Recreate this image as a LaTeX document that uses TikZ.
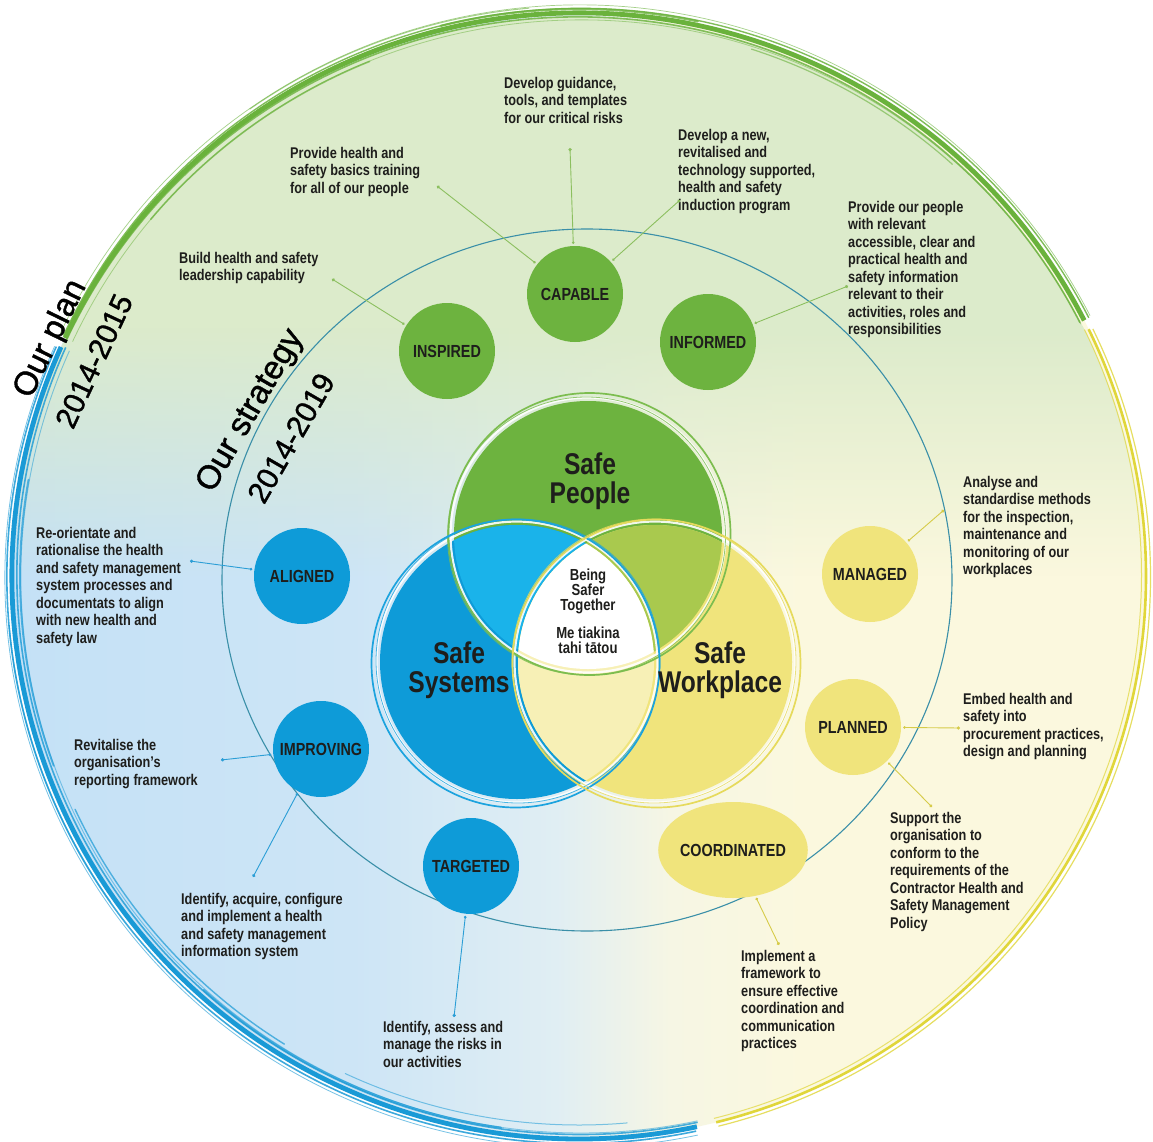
\documentclass[tikz,border=0pt]{standalone}
\usepackage{fontspec}
\setmainfont{Liberation Sans}
\newfontfamily\narrowfont{Liberation Sans}[FakeStretch=0.82]
\newfontfamily\headfont{Liberation Sans}[FakeBold=1.2]
\usetikzlibrary{arrows.meta,fadings,shapes.geometric}

% palette
\definecolor{gfill}{HTML}{6DB33F}
\definecolor{bfill}{HTML}{0E9BD8}
\definecolor{yfill}{HTML}{F0E47C}
\definecolor{gbmix}{HTML}{1AB3EA}
\definecolor{gymix}{HTML}{A9C94E}
\definecolor{bymix}{HTML}{F7F0B6}
\definecolor{gpale}{HTML}{DCEBCB}
\definecolor{bpale}{HTML}{C4E1F6}
\definecolor{bpaleb}{HTML}{CDE5F6}
\definecolor{bpalec}{HTML}{E0EEF3}
\definecolor{ypalea}{HTML}{F6F6E4}
\definecolor{ypale}{HTML}{FBF8DE}
\definecolor{gbrush}{HTML}{6AB23C}
\definecolor{bbrush}{HTML}{1A9AD6}
\definecolor{ybrush}{HTML}{E0D63A}
\definecolor{gring}{HTML}{7CBD4F}
\definecolor{bring}{HTML}{1CA3DE}
\definecolor{yring}{HTML}{E6DA5C}
\definecolor{ring}{HTML}{3A8FA8}
\definecolor{txt}{HTML}{1E1E1C}
\definecolor{gline}{HTML}{8CBF5F}
\definecolor{bline}{HTML}{2B9ED6}
\definecolor{yline}{HTML}{D6CB48}

% background washes of the outer disk
\pgfdeclarehorizontalshading{bgshade}{100bp}{color(0bp)=(bpale); color(25bp)=(bpale); color(40bp)=(bpaleb); color(49bp)=(bpalec); color(54bp)=(ypalea); color(60bp)=(ypale); color(100bp)=(ypale)}
\pgfdeclareverticalshading{greenfadeshade}{100bp}{color(0bp)=(black); color(50bp)=(black); color(61bp)=(white); color(100bp)=(white)}
\pgfdeclarefading{greenfade}{\pgfuseshading{greenfadeshade}}

\tikzset{
  lbl/.style={font=\narrowfont\bfseries\fontsize{17.5}{18}\selectfont, text=txt},
  smallc/.style={circle, minimum size=96pt, inner sep=0pt, lbl},
  gsmall/.style={smallc, fill=gfill},
  bsmall/.style={smallc, fill=bfill},
  ysmall/.style={smallc, fill=yfill},
  ann/.style={anchor=north west, align=left, inner sep=0pt, text=txt,
    font=\narrowfont\bfseries\fontsize{15.5}{17.5}\selectfont},
  big/.style={font=\narrowfont\bfseries\fontsize{30}{29}\selectfont, align=center, text=txt, inner sep=0pt},
  ctr/.style={font=\narrowfont\bfseries\fontsize{16}{15}\selectfont, align=center, text=txt, inner sep=0pt},
  ttl/.style={font=\headfont\fontsize{33}{33}\selectfont, text=black, inner sep=0pt},
  yrs/.style={font=\headfont\fontsize{30}{30}\selectfont, text=black, inner sep=0pt},
  conn/.style={line width=0.9pt, {Circle[length=3.2pt]}-{Circle[length=2.6pt]}, shorten >=2pt},
  gconn/.style={conn, draw=gline},
  bconn/.style={conn, draw=bline},
  yconn/.style={conn, draw=yline},
}

\begin{document}
\begin{tikzpicture}[x=1pt,y=-1pt]
\useasboundingbox (0,0) rectangle (1153,1142);
\fill[white] (0,0) rectangle (1153,1142);

% outer disk
\coordinate (cO) at (579,576);
\shade[shading=bgshade] (cO) ellipse [x radius=567pt, y radius=563pt];
\fill[gpale, path fading=greenfade] (cO) ellipse [x radius=567pt, y radius=563pt];

% brushed rim: green top, blue left and bottom, yellow right
\foreach \dx/\dy/\dr/\w/\op in {0/0/0/4.8/1, 1.5/-1/3.5/1.4/.85, -1.5/1/-3/1.6/.8, 0.5/-2/6/0.7/.6, 2/1/-6/0.8/.5}{
  \pgfmathsetmacro\rx{567+\dr}\pgfmathsetmacro\ry{563+\dr}
  \draw[gbrush, line width=\w pt, opacity=\op] ([shift={(\dx,\dy)}]cO) ++(155:\rx pt and \ry pt)
    arc[start angle=155, end angle=27, x radius=\rx pt, y radius=\ry pt];
}
% loose green bristle strokes
\foreach \a/\b/\dr/\w/\op in {140/112/-8/1.6/.7, 104/78/4/2.2/.8, 72/48/-9/1.2/.6, 125/95/7/1.0/.6}{
  \pgfmathsetmacro\rx{567+\dr}\pgfmathsetmacro\ry{563+\dr}
  \draw[gbrush, line width=\w pt, opacity=\op, line cap=round] (cO) ++(\a:\rx pt and \ry pt)
    arc[start angle=\a, end angle=\b, x radius=\rx pt, y radius=\ry pt];
}
\foreach \dx/\dy/\dr/\w/\op in {0/0/0/4.8/1, -1.5/1/3.5/1.6/.85, 1.5/-1/-3.5/1.6/.8, -0.5/2/6.5/0.8/.6, 2/1/-7/0.9/.5}{
  \pgfmathsetmacro\rx{567+\dr}\pgfmathsetmacro\ry{563+\dr}
  \draw[bbrush, line width=\w pt, opacity=\op] ([shift={(\dx,\dy)}]cO) ++(156:\rx pt and \ry pt)
    arc[start angle=156, end angle=282, x radius=\rx pt, y radius=\ry pt];
}
% loose blue bristle strokes
\foreach \a/\b/\dr/\w/\op in {170/200/-8/1.8/.7, 205/238/-11/1.4/.7, 228/262/-6/2.0/.75, 245/275/-14/1.0/.55, 185/215/5/1.2/.6}{
  \pgfmathsetmacro\rx{567+\dr}\pgfmathsetmacro\ry{563+\dr}
  \draw[bbrush, line width=\w pt, opacity=\op, line cap=round] (cO) ++(\a:\rx pt and \ry pt)
    arc[start angle=\a, end angle=\b, x radius=\rx pt, y radius=\ry pt];
}
\foreach \dx/\dy/\dr/\w/\op in {0/0/0/2.6/1, 1.5/1/3/1.2/.8, -1.5/-1/-3/1.0/.7}{
  \pgfmathsetmacro\rx{567+\dr}\pgfmathsetmacro\ry{563+\dr}
  \draw[ybrush, line width=\w pt, opacity=\op] ([shift={(\dx,\dy)}]cO) ++(-76:\rx pt and \ry pt)
    arc[start angle=-76, end angle=26, x radius=\rx pt, y radius=\ry pt];
}

% strategy ring
\draw[ring, line width=1.1pt] (587,580) ellipse [x radius=365pt, y radius=351pt];

% Venn of the three themes
\coordinate (cG) at (588,535);
\coordinate (cB) at (517,662);
\coordinate (cY) at (655,662);
\fill[gfill] (cG) circle (134pt);
\fill[bfill] (cB) circle (137pt);
\fill[yfill] (cY) circle (137pt);
\begin{scope}
  \clip (cG) circle (134pt);
  \fill[gbmix] (cB) circle (137pt);
  \fill[gymix] (cY) circle (137pt);
\end{scope}
\begin{scope}
  \clip (cB) circle (137pt);
  \fill[bymix] (cY) circle (137pt);
  \clip (cY) circle (137pt);
  \fill[white] (cG) circle (134pt);
\end{scope}
% brushed outlines
\draw[white, line width=2.2pt, opacity=.9] (cG) circle (137.5pt);
\draw[white, line width=2.2pt, opacity=.9] (cB) circle (140.5pt);
\draw[white, line width=2.2pt, opacity=.9] (cY) circle (140.5pt);
\draw[gring, line width=1.7pt] ([shift={(1.5,-1)}]cG) circle (141pt);
\draw[gring, line width=0.8pt, opacity=.8] ([shift={(-1.5,1)}]cG) circle (139pt);
\draw[bring, line width=1.7pt] ([shift={(-1.5,1.5)}]cB) circle (144pt);
\draw[bring, line width=0.8pt, opacity=.8] ([shift={(1,-1)}]cB) circle (142pt);
\draw[yring, line width=1.7pt] ([shift={(1.5,1.5)}]cY) circle (144pt);
\draw[yring, line width=0.8pt, opacity=.8] ([shift={(-1,-1)}]cY) circle (142pt);

\node[big] (people) at (590,481) {Safe\\People};
\node[big] (systems) at (459,670) {Safe\\Systems};
\node[big] (workplace) at (720,670) {Safe\\Workplace};
\node[ctr] (together) at (588,611) {Being\\Safer\\Together\\[13pt]Me tiakina\\tahi tātou};

% outcome circles
\node[gsmall] (capable) at (575,294) {CAPABLE};
\node[gsmall] (inspired) at (447,351) {INSPIRED};
\node[gsmall] (informed) at (708,342) {INFORMED};
\node[bsmall] (aligned) at (302,576) {ALIGNED};
\node[bsmall] (improving) at (321,749) {IMPROVING};
\node[bsmall] (targeted) at (471,866) {TARGETED};
\node[ysmall] (managed) at (870,574) {MANAGED};
\node[ysmall] (planned) at (853,727) {PLANNED};
\node[ysmall, ellipse, minimum width=116pt, minimum height=96pt] (coordinated) at (733,850) {COORDINATED};

% actions
\node[ann] (a1) at (504,77) {Develop guidance,\\tools, and templates\\for our critical risks};
\node[ann] (a2) at (290,147) {Provide health and\\safety basics training\\for all of our people};
\node[ann] (a3) at (678,129) {Develop a new,\\revitalised and\\technology supported,\\health and safety\\induction program};
\node[ann] (a4) at (848,201) {Provide our people\\with relevant\\accessible, clear and\\practical health and\\safety information\\relevant to their\\activities, roles and\\responsibilities};
\node[ann] (a5) at (179,252) {Build health and safety\\leadership capability};
\node[ann] (a6) at (963,476) {Analyse and\\standardise methods\\for the inspection,\\maintenance and\\monitoring of our\\workplaces};
\node[ann] (a7) at (36,527) {Re-orientate and\\rationalise the health\\and safety management\\system processes and\\documentats to align\\with new health and\\safety law};
\node[ann] (a8) at (74,739) {Revitalise the\\organisation’s\\reporting framework};
\node[ann] (a9) at (181,893) {Identify, acquire, configure\\and implement a health\\and safety management\\information system};
\node[ann] (a10) at (383,1021) {Identify, assess and\\manage the risks in\\our activities};
\node[ann] (a11) at (963,693) {Embed health and\\safety into\\procurement practices,\\design and planning};
\node[ann] (a12) at (890,812) {Support the\\organisation to\\conform to the\\requirements of the\\Contractor Health and\\Safety Management\\Policy};
\node[ann] (a13) at (741,950) {Implement a\\framework to\\ensure effective\\coordination and\\communication\\practices};

% leader ends beside the actions
\coordinate (d1) at (570,148);
\coordinate (d2) at (437,186);
\coordinate (d3) at (680,200);
\coordinate (d4) at (848,286);
\coordinate (d5) at (332,279);
\coordinate (d6) at (944,510);
\coordinate (d7) at (190,561);
\coordinate (d8) at (221,760);
\coordinate (d9) at (253,877);
\coordinate (d10) at (454,1017);
\coordinate (d11) at (960,728);
\coordinate (d12) at (932,807);
\coordinate (d13) at (779,945);

\draw[gconn] (d1) -- (capable);
\draw[gconn] (d2) -- (capable);
\draw[gconn] (d3) -- (capable);
\draw[gconn] (d4) -- (informed);
\draw[gconn] (d5) -- (inspired);
\draw[yconn] (d6) -- (managed);
\draw[bconn] (d7) -- (aligned);
\draw[bconn] (d8) -- (improving);
\draw[bconn] (d9) -- (improving);
\draw[bconn] (d10) -- (targeted);
\draw[yconn] (d11) -- (planned);
\draw[yconn] (d12) -- (planned);
\draw[yconn] (d13) -- (coordinated);

% headings
\node[ttl, rotate=64] (plan) at (51,339) {Our plan};
\node[yrs, rotate=65] (planyears) at (94,361) {2014-2015};
\node[ttl, rotate=60] (strategy) at (251,411) {Our strategy};
\node[yrs, rotate=60] (strategyyears) at (291,438) {2014-2019};
\end{tikzpicture}
\end{document}
